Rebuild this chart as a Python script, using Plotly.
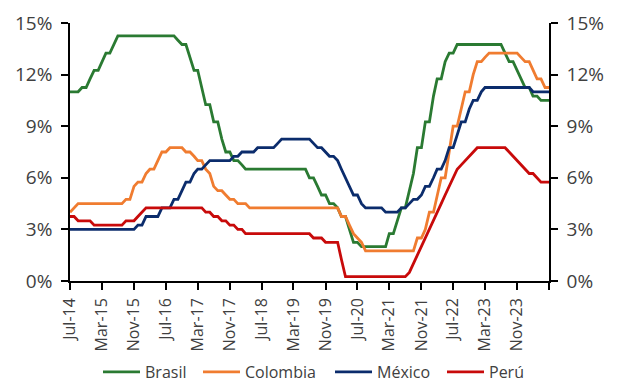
import pandas as pd
import plotly.graph_objects as go

# Monthly dates: Jul-2014 .. Jul-2024
months = pd.date_range("2014-07-01", "2024-07-01", freq="MS")

brasil = (
    [11.00, 11.00, 11.00, 11.25, 11.25, 11.75]
    + [12.25, 12.25, 12.75, 13.25, 13.25, 13.75, 14.25, 14.25, 14.25, 14.25, 14.25, 14.25]
    + [14.25, 14.25, 14.25, 14.25, 14.25, 14.25, 14.25, 14.25, 14.25, 14.00, 13.75, 13.75]
    + [13.00, 12.25, 12.25, 11.25, 10.25, 10.25, 9.25, 9.25, 8.25, 7.50, 7.50, 7.00]
    + [7.00, 6.75, 6.50, 6.50, 6.50, 6.50, 6.50, 6.50, 6.50, 6.50, 6.50, 6.50]
    + [6.50, 6.50, 6.50, 6.50, 6.50, 6.50, 6.00, 6.00, 5.50, 5.00, 5.00, 4.50]
    + [4.50, 4.25, 3.75, 3.75, 3.00, 2.25, 2.25, 2.00, 2.00, 2.00, 2.00, 2.00]
    + [2.00, 2.00, 2.75, 2.75, 3.50, 4.25, 4.25, 5.25, 6.25, 7.75, 7.75, 9.25]
    + [9.25, 10.75, 11.75, 11.75, 12.75, 13.25, 13.25, 13.75, 13.75, 13.75, 13.75, 13.75]
    + [13.75, 13.75, 13.75, 13.75, 13.75, 13.75, 13.75, 13.25, 12.75, 12.75, 12.25, 11.75]
    + [11.25, 11.25, 10.75, 10.75, 10.50, 10.50, 10.50]
)

colombia = (
    [4.00, 4.25, 4.50, 4.50, 4.50, 4.50]
    + [4.50, 4.50, 4.50, 4.50, 4.50, 4.50, 4.50, 4.50, 4.75, 4.75, 5.50, 5.75]
    + [5.75, 6.25, 6.50, 6.50, 7.00, 7.50, 7.50, 7.75, 7.75, 7.75, 7.75, 7.50]
    + [7.50, 7.25, 7.00, 7.00, 6.50, 6.25, 5.50, 5.25, 5.25, 5.00, 4.75, 4.75]
    + [4.50, 4.50, 4.50, 4.25, 4.25, 4.25, 4.25, 4.25, 4.25, 4.25, 4.25, 4.25]
    + [4.25, 4.25, 4.25, 4.25, 4.25, 4.25, 4.25, 4.25, 4.25, 4.25, 4.25, 4.25]
    + [4.25, 4.25, 3.75, 3.75, 3.25, 2.75, 2.50, 2.25, 1.75, 1.75, 1.75, 1.75]
    + [1.75, 1.75, 1.75, 1.75, 1.75, 1.75, 1.75, 1.75, 1.75, 2.50, 2.50, 3.00]
    + [4.00, 4.00, 5.00, 6.00, 6.00, 7.50, 9.00, 9.00, 10.00, 11.00, 11.00, 12.00]
    + [12.75, 12.75, 13.00, 13.25, 13.25, 13.25, 13.25, 13.25, 13.25, 13.25, 13.25, 13.00]
    + [12.75, 12.75, 12.25, 11.75, 11.75, 11.25, 11.25]
)

mexico = (
    [3.00, 3.00, 3.00, 3.00, 3.00, 3.00]
    + [3.00, 3.00, 3.00, 3.00, 3.00, 3.00, 3.00, 3.00, 3.00, 3.00, 3.00, 3.25]
    + [3.25, 3.75, 3.75, 3.75, 3.75, 4.25, 4.25, 4.25, 4.75, 4.75, 5.25, 5.75]
    + [5.75, 6.25, 6.50, 6.50, 6.75, 7.00, 7.00, 7.00, 7.00, 7.00, 7.00, 7.25]
    + [7.25, 7.50, 7.50, 7.50, 7.50, 7.75, 7.75, 7.75, 7.75, 7.75, 8.00, 8.25]
    + [8.25, 8.25, 8.25, 8.25, 8.25, 8.25, 8.25, 8.00, 7.75, 7.75, 7.50, 7.25]
    + [7.25, 7.00, 6.50, 6.00, 5.50, 5.00, 5.00, 4.50, 4.25, 4.25, 4.25, 4.25]
    + [4.25, 4.00, 4.00, 4.00, 4.00, 4.25, 4.25, 4.50, 4.75, 4.75, 5.00, 5.50]
    + [5.50, 6.00, 6.50, 6.50, 7.00, 7.75, 7.75, 8.50, 9.25, 9.25, 10.00, 10.50]
    + [10.50, 11.00, 11.25, 11.25, 11.25, 11.25, 11.25, 11.25, 11.25, 11.25, 11.25, 11.25]
    + [11.25, 11.25, 11.00, 11.00, 11.00, 11.00, 11.00]
)

peru = (
    [3.75, 3.75, 3.50, 3.50, 3.50, 3.50]
    + [3.25, 3.25, 3.25, 3.25, 3.25, 3.25, 3.25, 3.25, 3.50, 3.50, 3.50, 3.75]
    + [4.00, 4.25, 4.25, 4.25, 4.25, 4.25, 4.25, 4.25, 4.25, 4.25, 4.25, 4.25]
    + [4.25, 4.25, 4.25, 4.25, 4.00, 4.00, 3.75, 3.75, 3.50, 3.50, 3.25, 3.25]
    + [3.00, 3.00, 2.75, 2.75, 2.75, 2.75, 2.75, 2.75, 2.75, 2.75, 2.75, 2.75]
    + [2.75, 2.75, 2.75, 2.75, 2.75, 2.75, 2.75, 2.50, 2.50, 2.50, 2.25, 2.25]
    + [2.25, 2.25, 1.25, 0.25, 0.25, 0.25, 0.25, 0.25, 0.25, 0.25, 0.25, 0.25]
    + [0.25, 0.25, 0.25, 0.25, 0.25, 0.25, 0.25, 0.50, 1.00, 1.50, 2.00, 2.50]
    + [3.00, 3.50, 4.00, 4.50, 5.00, 5.50, 6.00, 6.50, 6.75, 7.00, 7.25, 7.50]
    + [7.75, 7.75, 7.75, 7.75, 7.75, 7.75, 7.75, 7.75, 7.50, 7.25, 7.00, 6.75]
    + [6.50, 6.25, 6.25, 6.00, 5.75, 5.75, 5.75]
)

series_names = ["Brasil", "Colombia", "México", "Perú"]
series_values = [brasil, colombia, mexico, peru]
series_colors = ["#2A7A32", "#F07C30", "#0B2C6C", "#C80A0A"]
legend_ids = ["legend", "legend2", "legend3", "legend4"]
legend_left = [103, 203, 335, 447]   # px where each legend swatch starts

x_tick_dates = pd.date_range("2014-07-01", "2024-07-01", freq="8MS")
x_tick_labels = [d.strftime("%b-%y") for d in x_tick_dates[:-1]] + [""]

y_ticks = [0, 3, 6, 9, 12, 15]

TXT = "#404040"
FONT = "Open Sans"
W, H = 618, 382

fig = go.Figure()
for name, vals, col, lg in zip(series_names, series_values, series_colors, legend_ids):
    fig.add_trace(go.Scatter(
        x=months, y=vals, name=name, mode="lines",
        line=dict(color=col, width=2.8), legend=lg,
    ))
# invisible trace to anchor the right axis
fig.add_trace(go.Scatter(x=[months[0]], y=[0], yaxis="y2", mode="lines",
                         showlegend=False, hoverinfo="skip",
                         line=dict(color="rgba(0,0,0,0)")))

axis_common = dict(
    showline=True, linecolor="black", linewidth=1.5,
    ticks="outside", ticklen=7, tickwidth=1.5, tickcolor="black",
    showgrid=False, zeroline=False, automargin=False,
)

legend_layout = {}
for lg, left in zip(legend_ids, legend_left):
    legend_layout[lg] = dict(
        orientation="h", xref="container", x=(left - 5) / W, xanchor="left",
        yref="container", y=1 - 372 / H, yanchor="middle",
        font=dict(size=16, color=TXT), itemwidth=37,
        bgcolor="rgba(0,0,0,0)", borderwidth=0,
    )

fig.update_layout(
    width=W, height=H,
    margin=dict(l=70, r=69, t=23, b=101, autoexpand=False),
    paper_bgcolor="white", plot_bgcolor="white",
    font=dict(family=FONT, color=TXT),
    xaxis=dict(
        **axis_common,
        type="date",
        range=[months[0], months[-1]],
        tickvals=list(x_tick_dates), ticktext=x_tick_labels,
        tickangle=-90, tickfont=dict(size=16, color=TXT), ticklabelstandoff=2,
    ),
    yaxis=dict(
        **axis_common,
        range=[0, 15], tickvals=y_ticks, ticktext=[f"{v}%" for v in y_ticks],
        tickfont=dict(size=19, color=TXT), ticklabelstandoff=5,
    ),
    yaxis2=dict(
        **axis_common,
        overlaying="y", side="right",
        range=[0, 15], tickvals=y_ticks, ticktext=[f"{v}%" for v in y_ticks],
        tickfont=dict(size=19, color=TXT), ticklabelstandoff=5,
    ),
    showlegend=True,
    **legend_layout,
)

fig.write_html("out.html")
